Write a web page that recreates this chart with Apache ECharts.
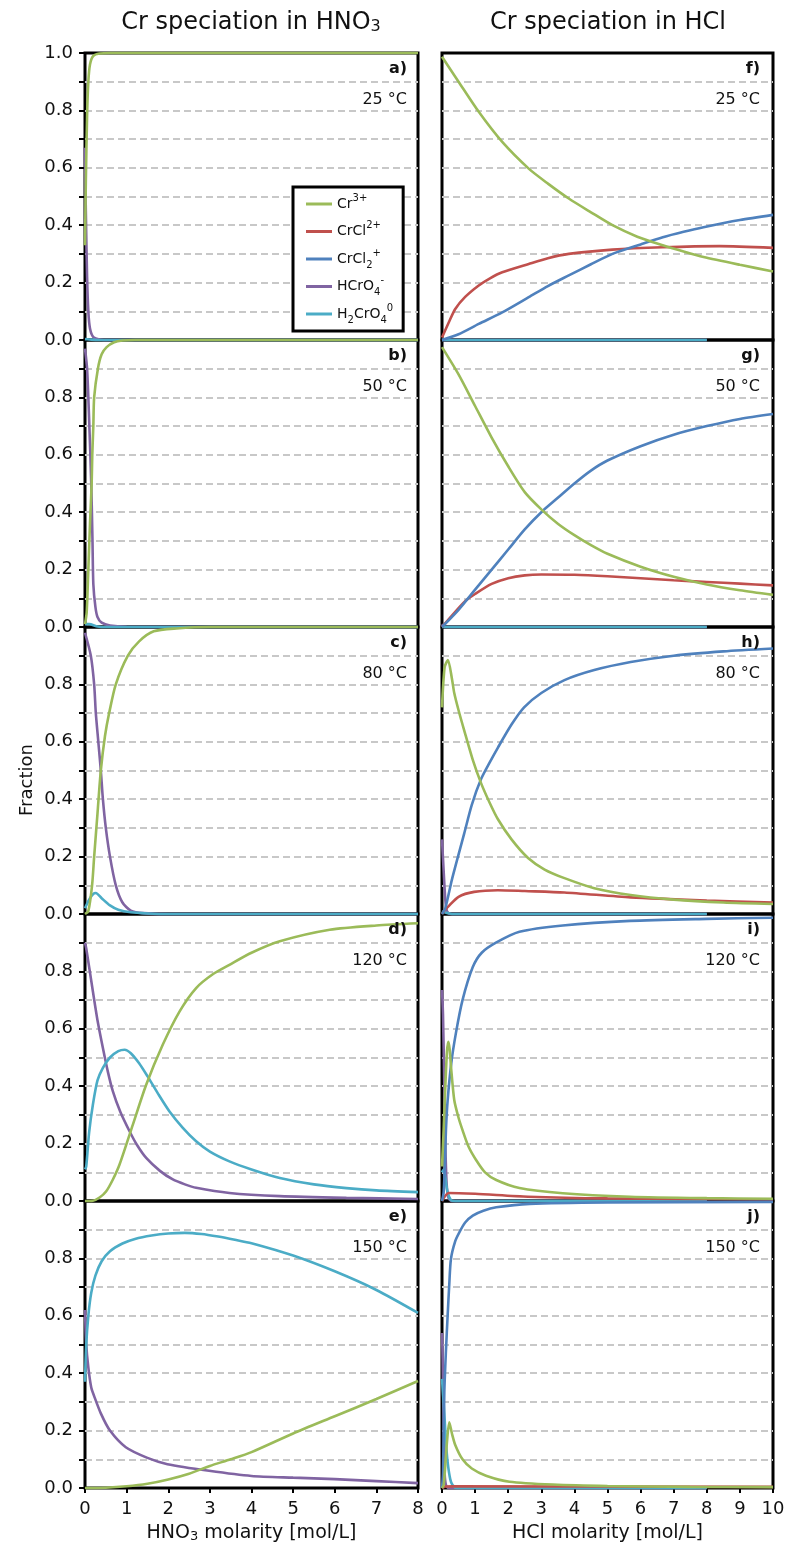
<!DOCTYPE html>
<html><head><meta charset="utf-8">
<script src="https://cdn.jsdelivr.net/npm/echarts@6/dist/echarts.min.js"></script>
<style>html,body{margin:0;padding:0;background:#fff}#c{width:800px;height:1561px}</style>
</head><body><div id="c"></div>
<script>
// ---------- tick labels / categories ----------
const seriesNames = ['Cr3+', 'CrCl2+', 'CrCl2_+', 'HCrO4-', 'H2CrO40'];
const seriesLabels = ['Cr{sup|3+}', 'CrCl{sup|2+}', 'CrCl{sub|2}{sup|+}', 'HCrO{sub|4}{sup|-}', 'H{sub|2}CrO{sub|4}{sup|0}'];
const panelTags = ['a)', 'b)', 'c)', 'd)', 'e)', 'f)', 'g)', 'h)', 'i)', 'j)'];
const temperatures = ['25 °C', '50 °C', '80 °C', '120 °C', '150 °C'];
const xMaxHNO3 = 8, xMaxHCl = 10;

// ---------- HNO3 panels (x = molarity, y = fraction) ----------
const a_cr3 = [[0,0.33],[0.02,0.55],[0.05,0.78],[0.08,0.9],[0.12,0.96],[0.2,0.99],[0.35,0.998],[0.6,1],[8,1]];
const a_hcro4 = [[0,0.67],[0.02,0.45],[0.05,0.22],[0.08,0.1],[0.12,0.04],[0.2,0.01],[0.35,0.002],[0.6,0],[8,0]];
const a_h2cro4 = [[0,0.003],[0.1,0.002],[0.3,0],[8,0]];

const b_cr3 = [[0,0.01],[0.04,0.05],[0.08,0.2],[0.12,0.36],[0.16,0.5],[0.175,0.6],[0.2,0.7],[0.22,0.8],[0.31,0.9],[0.4,0.95],[0.52,0.975],[0.7,0.992],[0.9,0.998],[1.2,1],[8,1]];
const b_hcro4 = [[0,0.97],[0.05,0.9],[0.1,0.72],[0.15,0.5],[0.18,0.3],[0.2,0.15],[0.25,0.07],[0.3,0.035],[0.4,0.015],[0.6,0.005],[1,0.001],[8,0]];
const b_h2cro4 = [[0,0.01],[0.1,0.01],[0.3,0.002],[0.5,0],[8,0]];

const c_cr3 = [[0,0],[0.08,0.01],[0.17,0.1],[0.22,0.2],[0.3,0.35],[0.38,0.5],[0.48,0.62],[0.58,0.7],[0.74,0.8],[1.03,0.9],[1.3,0.95],[1.65,0.985],[2.2,0.995],[3,1],[8,1]];
const c_hcro4 = [[0,0.98],[0.14,0.9],[0.22,0.8],[0.26,0.7],[0.32,0.6],[0.38,0.5],[0.43,0.4],[0.5,0.3],[0.6,0.2],[0.74,0.1],[0.9,0.04],[1.1,0.012],[1.4,0.003],[2,0],[8,0]];
const c_h2cro4 = [[0,0.02],[0.1,0.05],[0.2,0.07],[0.26,0.073],[0.4,0.055],[0.6,0.03],[0.8,0.015],[1.1,0.006],[1.5,0.002],[2,0],[8,0]];

const d_cr3 = [[0,0],[0.19,0.001],[0.35,0.012],[0.51,0.034],[0.67,0.075],[0.83,0.127],[1.15,0.266],[1.47,0.405],[1.87,0.545],[2.27,0.66],[2.67,0.742],[3.07,0.79],[3.47,0.823],[4,0.865],[4.68,0.905],[5.88,0.945],[7,0.96],[8,0.968]];
const d_hcro4 = [[0,0.9],[0.03,0.88],[0.19,0.73],[0.3,0.63],[0.43,0.533],[0.55,0.45],[0.67,0.382],[0.85,0.31],[1.07,0.243],[1.25,0.195],[1.47,0.15],[1.8,0.105],[2.11,0.075],[2.4,0.058],[2.67,0.046],[3.47,0.028],[4.68,0.017],[6.28,0.011],[8,0.007]];
const d_h2cro4 = [[0,0.11],[0.03,0.121],[0.1,0.24],[0.19,0.336],[0.3,0.42],[0.43,0.464],[0.6,0.5],[0.8,0.522],[0.95,0.527],[1.1,0.515],[1.3,0.48],[1.5,0.435],[1.75,0.375],[2.03,0.312],[2.35,0.255],[2.67,0.208],[3,0.172],[3.47,0.138],[4,0.11],[4.68,0.08],[5.5,0.058],[6.28,0.045],[7,0.037],[8,0.031]];

const e_cr3 = [[0,0],[0.5,0.001],[1,0.006],[1.5,0.015],[2,0.03],[2.5,0.05],[3,0.077],[3.5,0.1],[4,0.125],[5,0.19],[6,0.25],[7,0.31],[8,0.373]];
const e_hcro4 = [[0,0.62],[0.03,0.5],[0.08,0.42],[0.15,0.35],[0.22,0.32],[0.38,0.26],[0.6,0.2],[0.98,0.142],[1.5,0.105],[1.98,0.083],[2.98,0.06],[4,0.042],[5,0.036],[6,0.031],[7,0.024],[8,0.017]];
const e_h2cro4 = [[0,0.37],[0.03,0.5],[0.08,0.6],[0.15,0.68],[0.25,0.74],[0.4,0.79],[0.6,0.825],[0.9,0.852],[1.2,0.868],[1.6,0.88],[2,0.887],[2.4,0.889],[2.8,0.885],[3.2,0.876],[3.6,0.865],[4,0.853],[5,0.81],[6,0.755],[7,0.69],[8,0.61]];

// ---------- HCl panels ----------
const f_cr3 = [[0,0.987],[0.5,0.9],[1.11,0.795],[1.82,0.69],[2.62,0.597],[3.2,0.545],[3.83,0.493],[4.5,0.445],[5.15,0.4],[5.9,0.36],[6.67,0.33],[7.3,0.308],[7.9,0.289],[9,0.262],[10,0.239]];
const f_crcl = [[0,0.009],[0.2,0.06],[0.4,0.108],[0.7,0.15],[1.11,0.19],[1.45,0.215],[1.82,0.236],[2.62,0.265],[3.2,0.285],[3.83,0.3],[5.15,0.315],[6.67,0.323],[8.38,0.327],[10,0.321]];
const f_crcl2 = [[0,0],[0.5,0.02],[1.11,0.056],[1.82,0.096],[2.62,0.149],[3.2,0.188],[3.83,0.225],[4.5,0.264],[5.15,0.3],[6,0.333],[6.67,0.358],[7.3,0.377],[7.9,0.393],[9,0.418],[10,0.436]];
const f_hcro4 = [[0,0],[8,0]];
const f_h2cro4 = [[0,0],[8,0]];

const g_cr3 = [[0,0.975],[0.5,0.88],[1,0.77],[1.5,0.66],[2,0.56],[2.5,0.47],[3,0.41],[3.5,0.36],[4,0.32],[4.5,0.285],[5,0.255],[6,0.21],[7,0.175],[8,0.148],[9,0.128],[10,0.112]];
const g_crcl = [[0,0],[0.3,0.04],[0.7,0.09],[1,0.115],[1.5,0.15],[2,0.17],[2.5,0.18],[3,0.183],[4,0.182],[5,0.177],[6,0.17],[7,0.163],[8,0.157],[9,0.151],[10,0.145]];
const g_crcl2 = [[0,0],[0.5,0.06],[1,0.13],[1.5,0.2],[2,0.27],[2.5,0.34],[3,0.4],[3.5,0.45],[4,0.5],[4.5,0.545],[5,0.58],[6,0.63],[7,0.67],[8,0.7],[9,0.725],[10,0.742]];
const g_hcro4 = [[0,0.01],[0.1,0],[8,0]];
const g_h2cro4 = [[0,0],[8,0]];

const h_cr3 = [[0,0.72],[0.08,0.86],[0.18,0.885],[0.3,0.82],[0.37,0.77],[0.5,0.71],[0.67,0.64],[0.93,0.537],[1.18,0.456],[1.45,0.385],[1.69,0.33],[2.1,0.26],[2.6,0.195],[3.1,0.155],[3.7,0.125],[4.6,0.09],[5.7,0.066],[7,0.05],[8.5,0.04],[10,0.035]];
const h_crcl = [[0,0],[0.1,0.015],[0.18,0.025],[0.5,0.06],[0.97,0.077],[1.69,0.083],[2.5,0.08],[3.7,0.075],[5.7,0.058],[8,0.047],[10,0.04]];
const h_crcl2 = [[0,0],[0.1,0.02],[0.3,0.12],[0.67,0.28],[0.9,0.38],[1.18,0.47],[1.45,0.53],[1.69,0.58],[2.1,0.66],[2.48,0.72],[3,0.77],[3.7,0.815],[4.6,0.85],[5.7,0.878],[7,0.9],[8.5,0.915],[10,0.925]];
const h_hcro4 = [[0,0.26],[0.05,0.15],[0.1,0.05],[0.15,0.01],[0.25,0],[8,0]];
const h_h2cro4 = [[0,0.01],[0.1,0.005],[0.3,0],[8,0]];

const i_cr3 = [[0,0.12],[0.05,0.25],[0.1,0.4],[0.15,0.52],[0.19,0.555],[0.23,0.53],[0.27,0.47],[0.37,0.352],[0.5,0.29],[0.62,0.247],[0.8,0.19],[1.03,0.143],[1.3,0.1],[1.64,0.073],[2.34,0.045],[3.65,0.027],[5.68,0.015],[8,0.01],[10,0.008]];
const i_crcl = [[0,0],[0.08,0.015],[0.2,0.028],[1,0.025],[2.6,0.015],[5,0.009],[10,0.005]];
const i_crcl2 = [[0,0],[0.05,0.03],[0.09,0.14],[0.12,0.25],[0.17,0.35],[0.28,0.48],[0.42,0.585],[0.62,0.7],[0.93,0.815],[1.2,0.865],[1.63,0.9],[2.34,0.938],[3.65,0.96],[5.68,0.976],[8,0.983],[10,0.987]];
const i_hcro4 = [[0,0.735],[0.03,0.65],[0.07,0.4],[0.1,0.2],[0.14,0.06],[0.2,0.01],[0.3,0],[8,0]];
const i_h2cro4 = [[0,0.1],[0.05,0.11],[0.1,0.08],[0.17,0.03],[0.27,0.003],[0.4,0],[8,0]];

const j_cr3 = [[0,0],[0.05,0.01],[0.1,0.08],[0.15,0.16],[0.22,0.229],[0.3,0.19],[0.4,0.15],[0.62,0.1],[0.9,0.068],[1.33,0.043],[2.04,0.022],[3.35,0.012],[5,0.007],[7.5,0.004],[10,0.003]];
const j_crcl = [[0,0],[0.1,0.005],[0.3,0.006],[10,0.004]];
const j_crcl2 = [[0,0],[0.03,0.05],[0.07,0.333],[0.12,0.48],[0.17,0.6],[0.22,0.71],[0.27,0.798],[0.4,0.86],[0.52,0.89],[0.7,0.925],[0.93,0.949],[1.25,0.966],[1.64,0.978],[2.65,0.99],[5,0.995],[10,0.997]];
const j_hcro4 = [[0,0.54],[0.02,0.45],[0.05,0.2],[0.08,0.05],[0.12,0.01],[0.2,0],[8,0]];
const j_h2cro4 = [[0,0.38],[0.03,0.33],[0.07,0.26],[0.12,0.16],[0.17,0.09],[0.25,0.03],[0.32,0.01],[0.45,0],[8,0]];

// ---------- layout / style ----------
const COLORS = ['#9bbb59', '#c0504d', '#4f81bd', '#8064a2', '#4bacc6'];
const FONT = 'DejaVu Sans';
const TOPS = [53, 340, 627, 914, 1201];
const PH = 287;
const COL_LEFT = [85, 442];
const COL_W = [333, 331];

const panels = [
  [a_cr3, null, null, a_hcro4, a_h2cro4],
  [b_cr3, null, null, b_hcro4, b_h2cro4],
  [c_cr3, null, null, c_hcro4, c_h2cro4],
  [d_cr3, null, null, d_hcro4, d_h2cro4],
  [e_cr3, null, null, e_hcro4, e_h2cro4],
  [f_cr3, f_crcl, f_crcl2, f_hcro4, f_h2cro4],
  [g_cr3, g_crcl, g_crcl2, g_hcro4, g_h2cro4],
  [h_cr3, h_crcl, h_crcl2, h_hcro4, h_h2cro4],
  [i_cr3, i_crcl, i_crcl2, i_hcro4, i_h2cro4],
  [j_cr3, j_crcl, j_crcl2, j_hcro4, j_h2cro4]
];

const grids = [], xAxes = [], yAxes = [], series = [], graphics = [];
const drawOrder = [3, 4, 1, 2, 0];

panels.forEach((pd, idx) => {
  const col = idx < 5 ? 0 : 1;
  const row = idx % 5;
  const isBottom = row === 4;
  grids.push({
    left: COL_LEFT[col], top: TOPS[row], width: COL_W[col], height: PH,
    show: true, borderColor: '#000', borderWidth: 3, backgroundColor: 'transparent', containLabel: false
  });
  const xmax = col === 0 ? xMaxHNO3 : xMaxHCl;
  xAxes.push({
    type: 'value', gridIndex: idx, min: 0, max: xmax, interval: 1,
    axisLine: { show: false },
    axisTick: { show: isBottom, length: 5, lineStyle: { color: '#000', width: 2 } },
    axisLabel: { show: isBottom, margin: 12, fontSize: 18, fontFamily: FONT, color: '#111' },
    splitLine: { show: false },
    name: isBottom ? (col === 0 ? 'HNO{sub|3} molarity [mol/L]' : 'HCl molarity [mol/L]') : '',
    nameLocation: 'middle', nameGap: 36,
    nameTextStyle: { fontSize: 19, fontFamily: FONT, color: '#111',
      rich: { sub: { fontSize: 13, fontFamily: FONT, verticalAlign: 'bottom', color: '#111' } } }
  });
  yAxes.push({
    type: 'value', gridIndex: idx, min: 0, max: 1, interval: 0.1,
    axisLine: { show: false },
    axisTick: { show: col === 0, length: 6, lineStyle: { color: '#000', width: 2 } },
    axisLabel: {
      show: col === 0, margin: 12, fontSize: 18, fontFamily: FONT, color: '#111',
      formatter: function (v) {
        const t = Math.round(v * 10);
        if (t % 2) return '';
        if (row > 0 && t === 10) return '';
        return (t / 10).toFixed(1);
      }
    },
    splitLine: { show: true, showMinLine: false, showMaxLine: false,
      lineStyle: { color: '#c8c8c8', width: 2, type: [7, 4] } }
  });
  drawOrder.forEach(k => {
    if (!pd[k]) return;
    series.push({
      type: 'line', name: seriesNames[k], xAxisIndex: idx, yAxisIndex: idx,
      data: pd[k], showSymbol: false, symbol: 'none', smooth: 0.25,
      clip: false, lineStyle: { color: COLORS[k], width: 2.6 }, itemStyle: { color: COLORS[k] },
      emphasis: { disabled: true }, animation: false, z: 3
    });
  });
  const rx = col === 0 ? 407 : 760;
  graphics.push({ type: 'text', x: rx, y: TOPS[row] + 16, z: 10,
    style: { text: panelTags[idx], font: 'bold 16px "DejaVu Sans"', fill: '#111', textAlign: 'right', textVerticalAlign: 'middle' } });
  graphics.push({ type: 'text', x: rx, y: TOPS[row] + 47, z: 10,
    style: { text: temperatures[row], font: '16px "DejaVu Sans"', fill: '#111', textAlign: 'right', textVerticalAlign: 'middle' } });
});

// column titles and y name
graphics.push({ type: 'text', x: 251, y: 23, style: {
  text: 'Cr speciation in HNO{sub|3}', font: '24px "DejaVu Sans"', fill: '#111', textAlign: 'center', textVerticalAlign: 'middle',
  rich: { sub: { fontSize: 16, fontFamily: FONT, verticalAlign: 'bottom', fill: '#111' } } } });
graphics.push({ type: 'text', x: 608, y: 23, style: {
  text: 'Cr speciation in HCl', font: '24px "DejaVu Sans"', fill: '#111', textAlign: 'center', textVerticalAlign: 'middle' } });
graphics.push({ type: 'text', x: 27, y: 780, rotation: Math.PI / 2, style: {
  text: 'Fraction', font: '18px "DejaVu Sans"', fill: '#111', textAlign: 'center', textVerticalAlign: 'middle' } });

const chart = echarts.init(document.getElementById('c'), null, { renderer: 'canvas' });
chart.setOption({
  animation: false,
  backgroundColor: '#fff',
  grid: grids, xAxis: xAxes, yAxis: yAxes, series: series,
  legend: {
    data: seriesNames, orient: 'vertical', left: 293, top: 187,
    icon: 'rect', itemWidth: 26, itemHeight: 3, itemGap: 5.5,
    padding: [6, 10, 6, 13],
    borderColor: '#000', borderWidth: 3, backgroundColor: '#fff',
    selectedMode: false, z: 20,
    formatter: function (n) { return seriesLabels[seriesNames.indexOf(n)]; },
    textStyle: { fontSize: 14, fontFamily: FONT, color: '#111', lineHeight: 22,
      rich: {
        sup: { fontSize: 10, fontFamily: FONT, verticalAlign: 'top', color: '#111' },
        sub: { fontSize: 10, fontFamily: FONT, verticalAlign: 'bottom', color: '#111' }
      } }
  },
  graphic: graphics
});
</script></body></html>
